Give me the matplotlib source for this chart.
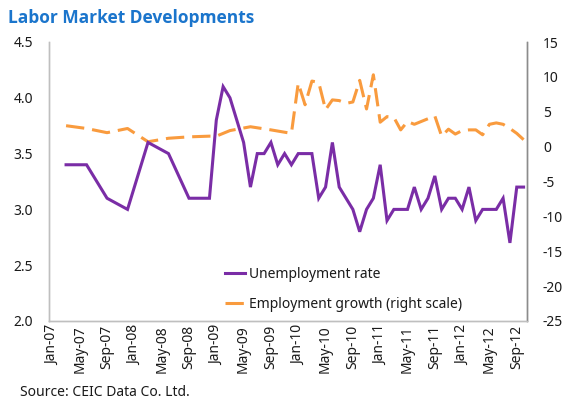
import matplotlib
matplotlib.use("Agg")
import matplotlib.pyplot as plt

# ---------------- data ----------------
unemp_dates = ["2007-03", "2007-06", "2007-09", "2007-12", "2008-03", "2008-06", "2008-09", "2008-12",
               "2009-01", "2009-02", "2009-03", "2009-04", "2009-05", "2009-06", "2009-07", "2009-08",
               "2009-09", "2009-10", "2009-11", "2009-12",
               "2010-01", "2010-02", "2010-03", "2010-04", "2010-05", "2010-06", "2010-07", "2010-08",
               "2010-09", "2010-10", "2010-11", "2010-12",
               "2011-01", "2011-02", "2011-03", "2011-04", "2011-05", "2011-06", "2011-07", "2011-08",
               "2011-09", "2011-10", "2011-11", "2011-12",
               "2012-01", "2012-02", "2012-03", "2012-04", "2012-05", "2012-06", "2012-07", "2012-08",
               "2012-09", "2012-10"]
unemp_values = [3.4, 3.4, 3.1, 3.0, 3.6, 3.5, 3.1, 3.1,
                3.8, 4.1, 4.0, 3.8, 3.6, 3.2, 3.5, 3.5, 3.6, 3.4, 3.5, 3.4,
                3.5, 3.5, 3.5, 3.1, 3.2, 3.6, 3.2, 3.1, 3.0, 2.8, 3.0, 3.1,
                3.4, 2.9, 3.0, 3.0, 3.0, 3.2, 3.0, 3.1, 3.3, 3.0, 3.1, 3.1,
                3.0, 3.2, 2.9, 3.0, 3.0, 3.0, 3.1, 2.7, 3.2, 3.2]

emp_dates = ["2007-03", "2007-06", "2007-09", "2007-12", "2008-03", "2008-06", "2008-09", "2008-12",
             "2009-01", "2009-03", "2009-06", "2009-09", "2009-12",
             "2010-01", "2010-02", "2010-03", "2010-04", "2010-05", "2010-06", "2010-07", "2010-08",
             "2010-09", "2010-10", "2010-11", "2010-12",
             "2011-01", "2011-02", "2011-03", "2011-04", "2011-05", "2011-06", "2011-07", "2011-08",
             "2011-09", "2011-10", "2011-11", "2011-12",
             "2012-01", "2012-02", "2012-03", "2012-04", "2012-05", "2012-06", "2012-07", "2012-08",
             "2012-09", "2012-10"]
emp_values = [3.0, 2.6, 2.0, 2.6, 0.7, 1.2, 1.4, 1.5,
              1.5, 2.3, 2.85, 2.4, 1.9,
              9.1, 6.0, 9.4, 9.2, 5.3, 6.7, 6.6, 6.2, 6.4, 9.5, 5.4, 10.3,
              3.5, 4.3, 4.2, 2.4, 3.6, 3.2, 3.6, 4.0, 4.4, 1.5, 2.5, 1.8,
              2.3, 2.4, 2.4, 1.7, 3.2, 3.4, 3.2, 2.6, 1.9, 1.0]

tick_labels = ["Jan-07", "May-07", "Sep-07", "Jan-08", "May-08", "Sep-08", "Jan-09", "May-09",
               "Sep-09", "Jan-10", "May-10", "Sep-10", "Jan-11", "May-11", "Sep-11", "Jan-12",
               "May-12", "Sep-12"]
left_ticks = [2.0, 2.5, 3.0, 3.5, 4.0, 4.5]
right_ticks = [-25, -20, -15, -10, -5, 0, 5, 10, 15]

title = "Labor Market Developments"
source = "Source: CEIC Data Co. Ltd."
unemp_label = "Unemployment rate"
emp_label = "Employment growth (right scale)"

MONTHS = ["Jan", "Feb", "Mar", "Apr", "May", "Jun", "Jul", "Aug", "Sep", "Oct", "Nov", "Dec"]


def to_idx(s):
    y, m = s.split("-")
    return (int(y) - 2007) * 12 + int(m) - 1


def label_idx(lbl):
    mon, yy = lbl.split("-")
    return (2000 + int(yy) - 2007) * 12 + MONTHS.index(mon)


ux = [to_idx(d) for d in unemp_dates]
ex = [to_idx(d) for d in emp_dates]
tick_pos = [label_idx(l) for l in tick_labels]

# ---------------- style ----------------
FONT = ["Noto Sans", "DejaVu Sans"]
plt.rcParams["font.family"] = FONT
PURPLE = "#7A2DA6"
ORANGE = "#F99B3E"
TXT = "#1a1a1a"

fig = plt.figure(figsize=(5.66, 4.03), dpi=100)
ax = fig.add_axes([49 / 566, 1 - 321 / 403, (527 - 49) / 566, (321 - 42) / 403])
ax2 = ax.twinx()

ln1, = ax.plot(ux, unemp_values, color=PURPLE, lw=2.2, solid_joinstyle="miter", zorder=3)
ln2, = ax2.plot(ex, emp_values, color=ORANGE, lw=2.2, dashes=(6, 2.6), zorder=2)

ax.set_xlim(-0.5, 69.5)
ax.set_ylim(2.0, 4.5)
ax2.set_ylim(-25, 15)
ax.set_yticks(left_ticks)
ax.set_yticklabels([f"{v:.1f}" for v in left_ticks])
ax2.set_yticks(right_ticks)
ax2.set_yticklabels([str(v) for v in right_ticks])
ax.set_xticks(tick_pos)
ax.set_xticklabels(tick_labels, rotation=90)

ax.tick_params(axis="y", length=0, pad=11.5, labelsize=10, labelcolor=TXT)
ax2.tick_params(axis="y", length=0, pad=11.5, labelsize=10, labelcolor=TXT)
ax.tick_params(axis="x", length=0, pad=3, labelsize=10, labelcolor=TXT)

for a in (ax, ax2):
    a.spines["top"].set_visible(False)
    a.spines["left"].set_color("#BFBFBF")
    a.spines["bottom"].set_color("#BFBFBF")
    a.spines["right"].set_color("#8C8C8C")
    a.spines["left"].set_linewidth(1.0)
    a.spines["bottom"].set_linewidth(1.0)
    a.spines["right"].set_linewidth(1.0)
    a.patch.set_visible(False)

ax.set_zorder(ax2.get_zorder() + 1)

leg = ax.legend([ln1, ln2], [unemp_label, emp_label], loc="lower left",
                bbox_to_anchor=(225 / 566, 1 - 312 / 403), bbox_transform=fig.transFigure,
                frameon=False, fontsize=10, handlelength=1.45, handletextpad=0.25,
                labelspacing=1.1, borderaxespad=0, borderpad=0)
for t in leg.get_texts():
    t.set_color(TXT)

fig.text(8 / 566, 1 - 18 / 403, title, fontsize=12.5, fontweight="bold", color="#1B75CC",
         ha="left", va="center", family=["Open Sans", "DejaVu Sans"])
fig.text(20 / 566, 1 - 393 / 403, source, fontsize=10, color=TXT, ha="left", va="center")

fig.savefig("out.png", dpi=100)
